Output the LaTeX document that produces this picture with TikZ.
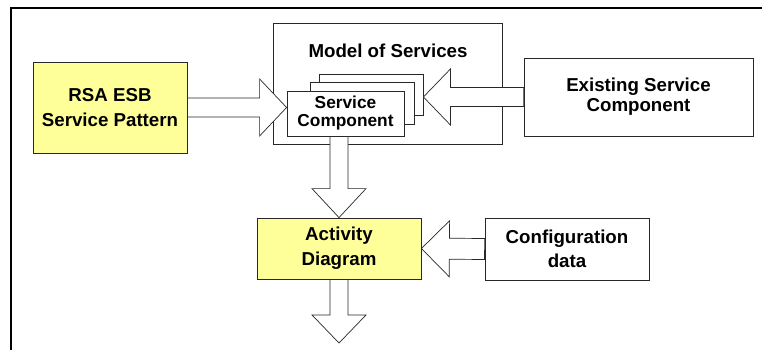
\documentclass[tikz,border=0pt]{standalone}
\usepackage{fontspec}
\setmainfont{Liberation Sans}
\usetikzlibrary{calc}
\definecolor{paleyellow}{RGB}{255,255,153}
\definecolor{edge}{RGB}{40,40,40}
\newcommand{\bkarrow}[5]{%
  \coordinate (H) at ($(#2)!#5!(#1)$);
  \draw[blockarr] ($(#1)!#3!90:(#2)$) -- ($(H)!#3!-90:(#1)$) -- ($(H)!#4!-90:(#1)$) -- (#2)
    -- ($(H)!#4!90:(#1)$) -- ($(H)!#3!90:(#1)$) -- ($(#1)!#3!-90:(#2)$) -- cycle;}
\begin{document}
\begin{tikzpicture}[x=1pt,y=-1pt,
  box/.style={draw=edge,line width=0.8pt,inner sep=0pt,align=center,font=\bfseries\fontsize{18.7}{25}\selectfont},
  ybox/.style={box,fill=paleyellow},
  wbox/.style={box,fill=white},
  blockarr/.style={draw=edge,fill=white,line width=0.7pt,line join=miter},
  frame/.style={draw=black,line width=1.2pt}]
\useasboundingbox (0,0) rectangle (762,350);
\draw[frame] (11,350) -- (11,8) -- (762,8);

\node[ybox,minimum width=154pt,minimum height=91pt] (rsa) at (110,107.5) {RSA ESB\\Service Pattern};
\node[wbox,minimum width=229pt,minimum height=121pt] (model) at (387.5,83.5) {};
\node[font=\bfseries\fontsize{18.7}{22}\selectfont,anchor=base,inner sep=0pt] (mtitle) at (388,58) {Model of Services};
\node[wbox,minimum width=104pt,minimum height=41pt] (sc3) at (371,94.5) {};
\node[wbox,minimum width=104pt,minimum height=42pt] (sc2) at (362,103) {};
\node[wbox,minimum width=117pt,minimum height=45pt,font=\bfseries\fontsize{17.3}{18}\selectfont] (sc1) at (345.5,113.5) {Service\\Component};
\node[wbox,minimum width=229pt,minimum height=78pt,font=\bfseries\fontsize{18.7}{20}\selectfont] (exist) at (638.5,97) {Existing Service\\Component};
\node[ybox,minimum width=164pt,minimum height=61pt] (act) at (339,248.5) {Activity\\Diagram};
\node[wbox,minimum width=164pt,minimum height=62pt,font=\bfseries\fontsize{18.7}{24}\selectfont] (conf) at (567,249) {Configuration\\data};
\coordinate (out) at (339,343);

\bkarrow{rsa.east}{rsa.east -| sc1.west}{9.5pt}{28.5pt}{27pt}
\bkarrow{exist.west}{exist.west -| sc3.east}{9.5pt}{28pt}{27pt}
\bkarrow{act.north |- sc1.south}{act.north}{9pt}{27pt}{29pt}
\bkarrow{act.south}{out}{9pt}{27pt}{28pt}
\bkarrow{conf.west}{act.east}{10.5pt}{28pt}{28pt}
\end{tikzpicture}
\end{document}
